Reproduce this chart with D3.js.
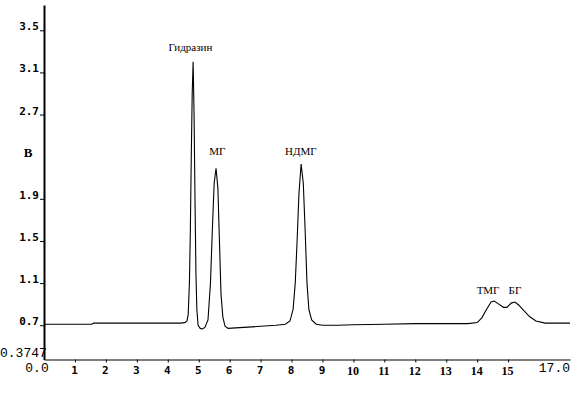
<!DOCTYPE html>
<html><head><meta charset="utf-8">
<script src="https://cdn.jsdelivr.net/npm/d3@7"></script>
<style>body{margin:0;background:#fff}svg{display:block}</style>
</head><body>
<svg id="c" width="579" height="393"></svg>
<script>
// Chromatogram trace: retention time (min) and signal (V)
const times = [0,1.55,1.6,4.4,4.55,4.62,4.66,4.70,4.73,4.76,4.79,4.82,4.85,4.88,4.91,4.94,4.98,5.05,5.12,5.2,5.3,5.38,5.44,5.50,5.56,5.62,5.67,5.72,5.78,5.85,5.95,6.2,7.0,7.5,7.8,7.95,8.05,8.12,8.18,8.24,8.31,8.38,8.44,8.50,8.56,8.65,8.8,9.0,9.5,10.0,11.0,12.0,13.7,14.0,14.15,14.3,14.45,14.55,14.7,14.85,14.96,15.1,15.22,15.35,15.5,15.7,15.9,16.2,17.0];
const signal = [0.71,0.71,0.72,0.72,0.725,0.74,0.80,1.1,1.6,2.3,2.9,3.20,2.7,1.9,1.2,0.85,0.70,0.67,0.665,0.68,0.75,1.1,1.6,2.05,2.19,2.0,1.5,1.0,0.78,0.69,0.67,0.675,0.69,0.70,0.71,0.74,0.85,1.1,1.5,1.95,2.23,2.05,1.6,1.1,0.85,0.75,0.71,0.70,0.70,0.705,0.71,0.715,0.715,0.725,0.77,0.85,0.92,0.93,0.90,0.87,0.87,0.91,0.92,0.89,0.84,0.78,0.74,0.72,0.72];
// Peak labels
const peakNames = ["Гидразин","МГ","НДМГ","ТМГ","БГ"];
const peakTimes = [4.73,5.6,8.3,14.35,15.22];
const peakLabelValues = [3.30,2.32,2.32,1.0,1.0];
// Axis ticks
const yTicks = [0.7,1.1,1.5,1.9,2.7,3.1,3.5];
const xTicks = [1,2,3,4,5,6,7,8,9,10,11,12,13,14,15];
const yMin = 0.3747, yMax = 3.74, xMax = 17;

const svg = d3.select("#c");
const x = d3.scaleLinear().domain([0, xMax]).range([44, 570]);
const y = d3.scaleLinear().domain([yMin, yMax]).range([359.5, 5]);

// trace
const line = d3.line().x((d,i)=>x(times[i])).y((d,i)=>y(signal[i]));
svg.append("path").datum(signal).attr("d", line)
  .attr("fill","none").attr("stroke","#000").attr("stroke-width",1.1);

// y axis
const ya = svg.append("g").attr("transform","translate(44,0)")
  .call(d3.axisLeft(y).tickValues(yTicks).tickSize(4).tickSizeOuter(0).tickFormat(d3.format(".1f")));
ya.select(".domain").attr("stroke-width",2);
ya.selectAll("text").attr("font-family","DejaVu Sans Mono").attr("font-weight","bold")
  .attr("font-size",11).attr("dy","-0.05em").attr("x",-5);

// x axis
const xa = svg.append("g").attr("transform","translate(0,359.5)")
  .call(d3.axisBottom(x).tickValues(xTicks).tickSize(3).tickSizeOuter(0).tickFormat(d3.format("d")));
xa.selectAll("text").attr("font-family",d=>d>=10?"Liberation Serif":"DejaVu Sans Mono")
  .attr("font-weight","bold").attr("font-size",d=>d>=10?12:11).attr("dx",-1).attr("y",7);

// extra labels
svg.append("text").attr("x",x(0)-7).attr("y",372).attr("text-anchor","middle")
  .attr("font-family","Liberation Mono").attr("font-size",13).text("0.0");
svg.append("text").attr("x",x(xMax)).attr("y",372).attr("text-anchor","end")
  .attr("font-family","Liberation Mono").attr("font-size",13).text(xMax.toFixed(1));
svg.append("text").attr("x",0).attr("y",y(yMin)-3).attr("text-anchor","start")
  .attr("font-family","Liberation Mono").attr("font-size",13).text(String(yMin));
svg.append("text").attr("x",28).attr("y",y(2.3)).attr("text-anchor","middle")
  .attr("font-family","Liberation Serif").attr("font-weight","bold").attr("font-size",13).text("B");

// peak labels
svg.selectAll(".pl").data(peakNames).enter().append("text")
  .attr("x",(d,i)=>x(peakTimes[i])).attr("y",(d,i)=>y(peakLabelValues[i]))
  .attr("text-anchor","middle").attr("font-family","Liberation Serif").attr("font-size",11)
  .text(d=>d);
</script>
</body></html>
